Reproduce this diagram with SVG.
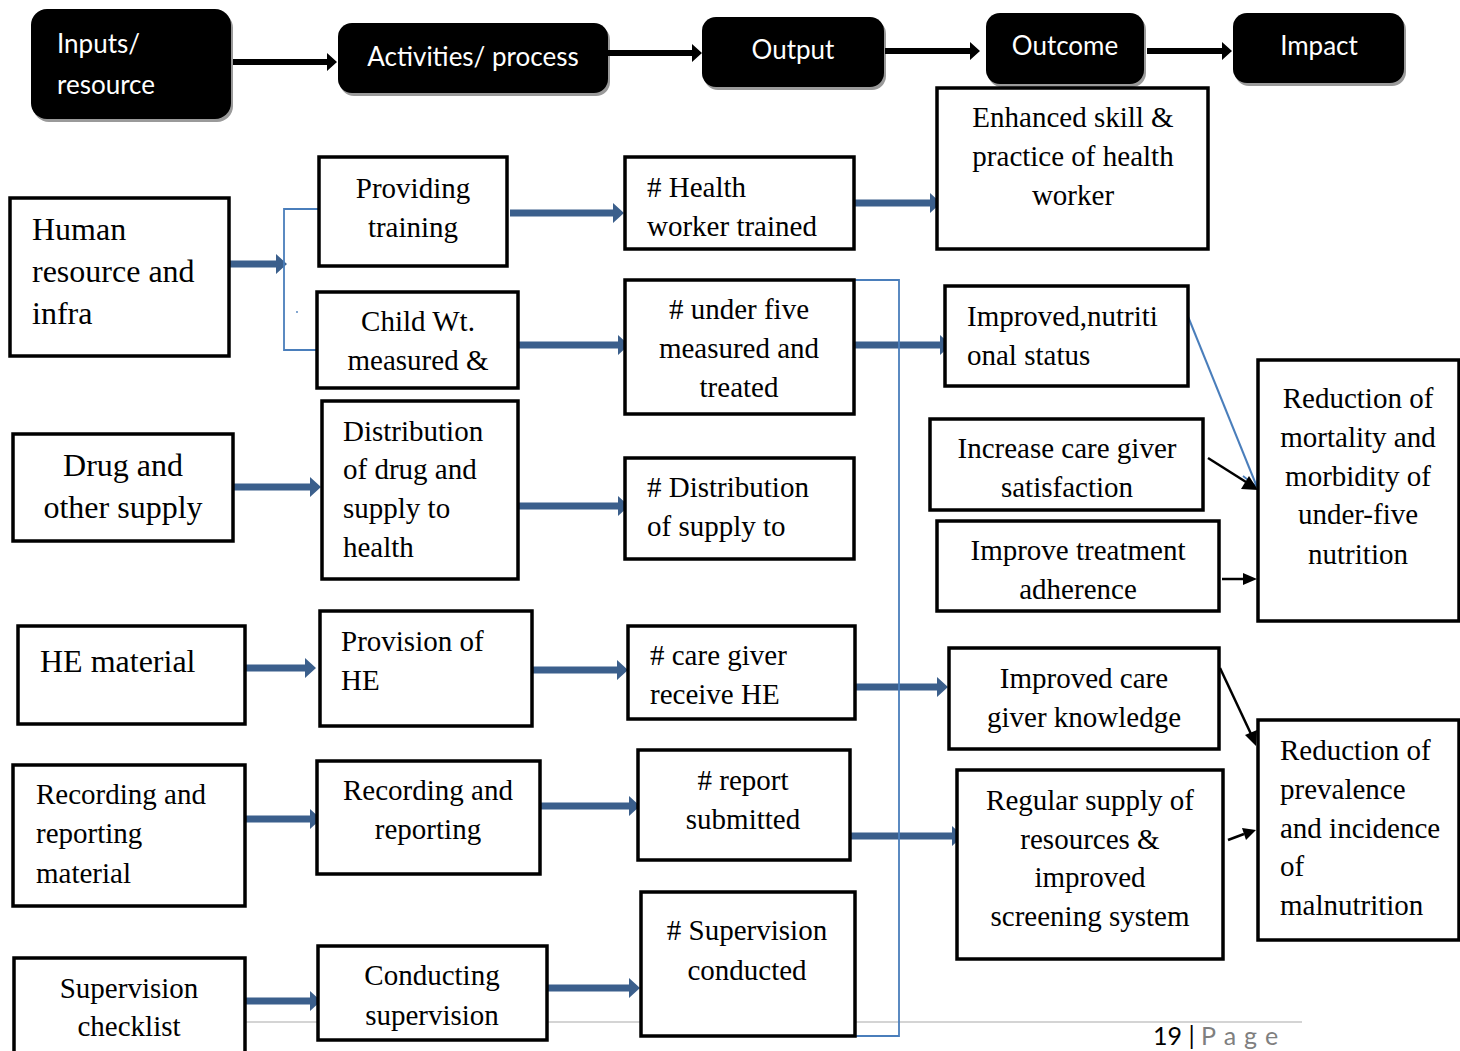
<svg xmlns="http://www.w3.org/2000/svg" width="1460" height="1051" viewBox="0 0 1460 1051">
<defs>
<style>
.hd{fill:#000;}
.sh{fill:#9a9a9a;}
.ht{font-family:Lato,"Liberation Sans",sans-serif;font-size:26px;fill:#fff;}
.bx{fill:#fff;stroke:#000;stroke-width:3.5;}
.t{font-family:"Liberation Serif","Times New Roman",serif;font-size:29px;fill:#000;}
.big{font-size:32px;}
.c{text-anchor:middle;}
.ba{fill:#3b5f8c;}
.ka{fill:#000;}
.thin{fill:none;stroke:#4a7ebb;stroke-width:1.8;}
</style>
</defs>
<rect width="1460" height="1051" fill="#fff"/>
<line x1="245" y1="1022" x2="1302" y2="1022" stroke="#d4d4d4" stroke-width="2"/>

<g id="header">
<g id="h-inputs"><rect class="sh" x="33" y="12" width="200" height="110" rx="16"/><rect class="hd" x="31" y="9" width="200" height="110" rx="16"/><text class="ht" x="57" y="53">Inputs/</text><text class="ht" x="57" y="94">resource</text></g>
<g id="h-activities"><rect class="sh" x="340" y="26" width="270" height="70" rx="14"/><rect class="hd" x="338" y="23" width="270" height="70" rx="14"/><text class="ht c" x="473" y="66">Activities/ process</text></g>
<g id="h-output"><rect class="sh" x="704" y="20" width="182" height="70" rx="14"/><rect class="hd" x="702" y="17" width="182" height="70" rx="14"/><text class="ht c" x="793" y="59">Output</text></g>
<g id="h-outcome"><rect class="sh" x="988" y="16" width="158" height="71" rx="14"/><rect class="hd" x="986" y="13" width="158" height="71" rx="14"/><text class="ht c" x="1065" y="55">Outcome</text></g>
<g id="h-impact"><rect class="sh" x="1235" y="16" width="171" height="70" rx="14"/><rect class="hd" x="1233" y="13" width="171" height="70" rx="14"/><text class="ht c" x="1319" y="55">Impact</text></g>
</g>

<g id="connectors">
<path class="ka" d="M233,59 H327 V53 L337,62 L327,71 V65 H233 Z"/>
<path class="ka" d="M608,50 H692 V44 L702,53 L692,62 V56 H608 Z"/>
<path class="ka" d="M885,48 H970 V42 L980,51 L970,60 V54 H885 Z"/>
<path class="ka" d="M1147,48 H1222 V42 L1232,51 L1222,60 V54 H1147 Z"/>
<path class="ba" d="M229,260.5 H276 V254 L287,264 L276,274 V267.5 H229 Z"/>
<path class="ba" d="M510,209.5 H613 V203 L624,213 L613,223 V216.5 H510 Z"/>
<path class="ba" d="M518,341.5 H618 V335 L629,345 L618,355 V348.5 H518 Z"/>
<path class="ba" d="M852,199.5 H930 V193 L941,203 L930,213 V206.5 H852 Z"/>
<path class="ba" d="M852,341.5 H940 V335 L951,345 L940,355 V348.5 H852 Z"/>
<path class="ba" d="M233,483.5 H310 V477 L321,487 L310,497 V490.5 H233 Z"/>
<path class="ba" d="M517,502.5 H618 V496 L629,506 L618,516 V509.5 H517 Z"/>
<path class="ba" d="M243,664.5 H305 V658 L316,668 L305,678 V671.5 H243 Z"/>
<path class="ba" d="M531,666.5 H617 V660 L628,670 L617,680 V673.5 H531 Z"/>
<path class="ba" d="M852,683.5 H937 V677 L948,687 L937,697 V690.5 H852 Z"/>
<path class="ba" d="M243,815.5 H310 V809 L321,819 L310,829 V822.5 H243 Z"/>
<path class="ba" d="M540,802.5 H629 V796 L640,806 L629,816 V809.5 H540 Z"/>
<path class="ba" d="M850,832.5 H952 V826 L963,836 L952,846 V839.5 H850 Z"/>
<path class="ba" d="M243,997.5 H310 V991 L321,1001 L310,1011 V1004.5 H243 Z"/>
<path class="ba" d="M546,984.5 H629 V978 L640,988 L629,998 V991.5 H546 Z"/>
<path class="thin" d="M319,209 H284 V350 H319"/>
<circle cx="297" cy="312" r="0.9" fill="#4a7ebb"/>
<path class="thin" d="M853,280 H899 V1036 H853"/>
<line x1="1187" y1="314" x2="1257" y2="487" stroke="#4a7ebb" stroke-width="2"/>
<path class="thin" d="M1243,476 L1257,487 L1258,469" stroke-width="2"/>
<line x1="1208" y1="458" x2="1246" y2="482" stroke="#000" stroke-width="2.5"/>
<path class="ka" d="M1258,490 L1241,489 L1249,476 Z"/>
<line x1="1222" y1="579" x2="1244" y2="579" stroke="#000" stroke-width="2.5"/>
<path class="ka" d="M1257,579 L1243,573 L1243,585 Z"/>
<line x1="1220" y1="668" x2="1251" y2="734" stroke="#000" stroke-width="2.5"/>
<path class="ka" d="M1256,746 L1245,735 L1257,730 Z"/>
<line x1="1228" y1="840" x2="1244" y2="834" stroke="#000" stroke-width="2.5"/>
<path class="ka" d="M1256,830 L1242,828 L1246,840 Z"/>
</g>

<g id="n-human"><rect class="bx" x="10" y="198" width="219" height="158"/><text class="t big" x="32" y="240">Human</text><text class="t big" x="32" y="282">resource and</text><text class="t big" x="32" y="324">infra</text></g>
<g id="n-drug"><rect class="bx" x="13" y="434" width="220" height="107"/><text class="t big c" x="123" y="476">Drug and</text><text class="t big c" x="123" y="518">other supply</text></g>
<g id="n-he"><rect class="bx" x="18" y="626" width="227" height="98"/><text class="t big" x="40" y="672">HE material</text></g>
<g id="n-recmat"><rect class="bx" x="13" y="765" width="232" height="141"/><text class="t" x="36" y="804">Recording and</text><text class="t" x="36" y="843">reporting</text><text class="t" x="36" y="883">material</text></g>
<g id="n-checklist"><rect class="bx" x="14" y="958" width="231" height="110"/><text class="t c" x="129" y="998">Supervision</text><text class="t c" x="129" y="1036">checklist</text></g>

<g id="n-training"><rect class="bx" x="319" y="157" width="188" height="109"/><text class="t c" x="413" y="198">Providing</text><text class="t c" x="413" y="237">training</text></g>
<g id="n-childwt"><rect class="bx" x="317" y="292" width="201" height="96"/><text class="t c" x="418" y="331">Child Wt.</text><text class="t c" x="418" y="370">measured &amp;</text></g>
<g id="n-distrib"><rect class="bx" x="322" y="401" width="196" height="178"/><text class="t" x="343" y="441">Distribution</text><text class="t" x="343" y="479">of drug and</text><text class="t" x="343" y="518">supply to</text><text class="t" x="343" y="557">health</text></g>
<g id="n-provhe"><rect class="bx" x="320" y="611" width="212" height="115"/><text class="t" x="341" y="651">Provision of</text><text class="t" x="341" y="690">HE</text></g>
<g id="n-recrep"><rect class="bx" x="317" y="761" width="223" height="113"/><text class="t c" x="428" y="800">Recording and</text><text class="t c" x="428" y="839">reporting</text></g>
<g id="n-conduct"><rect class="bx" x="318" y="946" width="229" height="94"/><text class="t c" x="432" y="985">Conducting</text><text class="t c" x="432" y="1025">supervision</text></g>

<g id="n-hwtrained"><rect class="bx" x="625" y="157" width="229" height="92"/><text class="t" x="647" y="197"># Health</text><text class="t" x="647" y="236">worker trained</text></g>
<g id="n-underfive"><rect class="bx" x="625" y="280" width="229" height="134"/><text class="t c" x="739" y="319"># under five</text><text class="t c" x="739" y="358">measured and</text><text class="t c" x="739" y="397">treated</text></g>
<g id="n-distout"><rect class="bx" x="625" y="458" width="229" height="101"/><text class="t" x="647" y="497"># Distribution</text><text class="t" x="647" y="536">of supply to</text></g>
<g id="n-cgreceive"><rect class="bx" x="628" y="626" width="227" height="93"/><text class="t" x="650" y="665"># care giver</text><text class="t" x="650" y="704">receive HE</text></g>
<g id="n-report"><rect class="bx" x="638" y="750" width="212" height="110"/><text class="t c" x="743" y="790"># report</text><text class="t c" x="743" y="829">submitted</text></g>
<g id="n-supcond"><rect class="bx" x="641" y="892" width="214" height="144"/><text class="t c" x="747" y="940"># Supervision</text><text class="t c" x="747" y="980">conducted</text></g>

<g id="n-enhanced"><rect class="bx" x="937" y="88" width="271" height="161"/><text class="t c" x="1073" y="127">Enhanced skill &amp;</text><text class="t c" x="1073" y="166">practice of health</text><text class="t c" x="1073" y="205">worker</text></g>
<g id="n-nutri"><rect class="bx" x="945" y="286" width="243" height="100"/><text class="t" x="967" y="326">Improved,nutriti</text><text class="t" x="967" y="365">onal status</text></g>
<g id="n-satisf"><rect class="bx" x="930" y="419" width="273" height="91"/><text class="t c" x="1067" y="458">Increase care giver</text><text class="t c" x="1067" y="497">satisfaction</text></g>
<g id="n-adher"><rect class="bx" x="937" y="521" width="282" height="90"/><text class="t c" x="1078" y="560">Improve treatment</text><text class="t c" x="1078" y="599">adherence</text></g>
<g id="n-knowl"><rect class="bx" x="949" y="648" width="270" height="101"/><text class="t c" x="1084" y="688">Improved care</text><text class="t c" x="1084" y="727">giver knowledge</text></g>
<g id="n-regular"><rect class="bx" x="957" y="770" width="266" height="189"/><text class="t c" x="1090" y="810">Regular supply of</text><text class="t c" x="1090" y="849">resources &amp;</text><text class="t c" x="1090" y="887">improved</text><text class="t c" x="1090" y="926">screening system</text></g>

<g id="n-mortality"><rect class="bx" x="1258" y="360" width="201" height="261"/><text class="t c" x="1358" y="408">Reduction of</text><text class="t c" x="1358" y="447">mortality and</text><text class="t c" x="1358" y="486">morbidity of</text><text class="t c" x="1358" y="524">under-five</text><text class="t c" x="1358" y="564">nutrition</text></g>
<g id="n-prevalence"><rect class="bx" x="1258" y="720" width="201" height="220"/><text class="t" x="1280" y="760">Reduction of</text><text class="t" x="1280" y="799">prevalence</text><text class="t" x="1280" y="838">and incidence</text><text class="t" x="1280" y="876">of</text><text class="t" x="1280" y="915">malnutrition</text></g>

<text x="1153" y="1045" font-family="Lato,'Liberation Sans',sans-serif" font-size="25" fill="#000">19 | <tspan fill="#7f7f7f" letter-spacing="8">Page</tspan></text>
</svg>
